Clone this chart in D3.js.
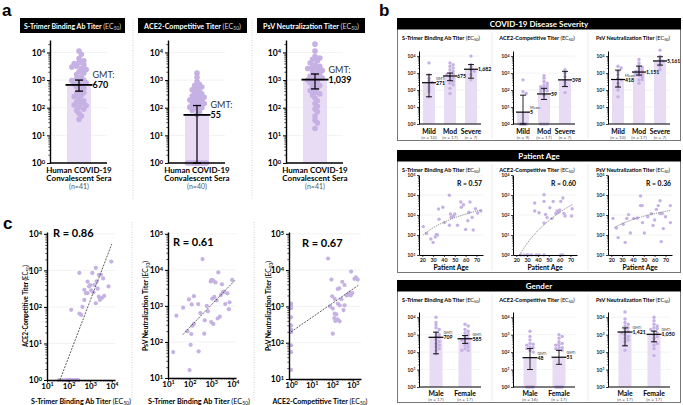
<!DOCTYPE html>
<html><head><meta charset="utf-8">
<script src="https://cdn.jsdelivr.net/npm/d3@7"></script>
<style>html,body{margin:0;padding:0;background:#fff;}svg{display:block;}</style>
</head><body>
<script>
// ================= DATA =================
const assayNames = ["S-Trimer Binding Ab Titer", "ACE2-Competitive Titer", "PsV Neutralization Titer"];

// ---- Panel a: per-sample titers as log10(EC50); 0 = below detection (plotted at 10^0)
const aLogS = [4.05,3.93,3.78,3.7,3.63,3.6,3.55,3.5,3.47,3.42,3.38,3.3,3.26,3.2,3.12,3.05,3.0,2.98,2.95,2.9,2.86,2.82,2.75,2.7,2.62,2.55,2.5,2.45,2.4,2.32,2.25,2.2,2.15,2.1,2.08,2.02,1.95,1.9,1.8,1.7,1.58];
const aLogACE = [0,0,0,0,0,0,0,0,0,0,0,3.25,3.1,2.95,2.85,2.8,2.75,2.7,2.65,2.6,2.55,2.5,2.45,2.42,2.38,2.35,2.3,2.28,2.25,2.2,2.18,2.15,2.1,2.05,2.02,2.0,1.95,1.9,1.85,1.75];
const aLogPsV = [4.3,4.05,3.85,3.8,3.75,3.7,3.62,3.55,3.5,3.45,3.42,3.38,3.35,3.3,3.25,3.2,3.15,3.1,3.08,3.02,3.0,2.95,2.9,2.85,2.8,2.75,2.7,2.62,2.55,2.5,2.45,2.35,2.25,2.15,2.05,1.95,1.85,1.7,1.55,1.45,1.25];
const aGMT = [670, 55, 1039];
const aGMTLabel = ["670", "55", "1,039"];
const aCILow = [398, 1, 479];
const aCIHigh = [1000, 120, 1660];
const aNLabel = ["(n=41)", "(n=40)", "(n=41)"];

// ---- Panel b: disease severity
const sevCats = ["Mild", "Mod", "Severe"];
const sevN = [[10,17,7],[9,17,7],[10,17,7]];
const sevGMT = [[271,675,1682],[5,59,398],[418,1151,5161]];
const sevLabel = [["271","675","1,682"],["5","59","398"],["418","1,151","5,161"]];
const sevStat = [["GMT:","",""],["Mean:","",""],["Mean:","",""]];
const sevCILow = [[40,355,500],[1,28,160],[150,760,2950]];
const sevCIHigh = [[800,1000,3160],[50,126,1260],[1500,2570,9100]];
const sevLogDots = [
  [[3.6,2.9,2.7,2.55,2.45,2.35,2.2,2.05,1.9,1.6],
   [3.6,3.5,3.4,3.3,3.2,3.1,3.0,2.95,2.9,2.8,2.7,2.6,2.5,2.4,2.3,2.1,1.8],
   [4.0,3.5,3.35,3.2,3.1,2.9,2.6]],
  [[2.6,1.9,1.8,0,0,0,0,0,0],
   [2.85,2.7,2.5,2.4,2.3,2.25,2.2,2.15,2.1,2.05,2.0,1.95,1.9,1.7,0,0,0],
   [3.2,3.0,2.8,2.6,2.45,2.3,1.85]],
  [[3.4,3.3,3.1,2.9,2.7,2.6,2.4,2.2,2.0,1.6],
   [3.8,3.6,3.45,3.35,3.3,3.2,3.15,3.1,3.05,3.0,2.95,2.9,2.85,2.75,2.6,2.4,2.6],
   [4.35,4.0,3.8,3.7,3.55,3.4,3.2]]
];

// ---- Panel b: patient age  [age, log10 titer]
const ageS = [[21,2.42],[24,2.08],[28,1.8],[30,1.63],[32,1.9],[33,2.03],[34,2.0],[35,3.3],[35.5,2.79],[39,3.39],[40.5,2.62],[45,3.99],[45,2.49],[46,3.05],[46.5,2.88],[48,2.93],[49,2.95],[50,3.05],[52.5,2.49],[55.5,3.65],[56,3.39],[58,3.51],[60,2.28],[62,2.71],[63,3.14],[64,3.65],[66,2.88],[67,2.25],[69,3.31],[71,3.1],[74,3.2]];
const ageACE = [[24,0],[27,0],[29.8,0],[31,0],[34,0],[38.4,0],[41,0],[45.6,0],[61,0],[63,0],[37,2.6],[37,2.2],[41,2.11],[45.6,3.01],[45.6,2.68],[45.6,1.6],[47,2.03],[48.4,1.87],[51,2.36],[52.8,1.82],[54,2.68],[56.5,2.08],[57.7,2.2],[59,2.15],[60,2.25],[61,2.68],[63,2.85],[64,2.08],[65,1.95],[71,1.95],[71.5,2.31]];
const agePsV = [[21.6,2.83],[24.8,2.35],[26.4,1.87],[31,2.54],[32.8,1.63],[34.4,2.83],[36,3.02],[37.6,2.1],[40.8,2.83],[44,2.85],[47,3.95],[47,3.47],[48.5,3.47],[48.8,2.62],[50.5,2.1],[53.7,2.91],[57,3.07],[58.5,2.48],[60,2.75],[61.6,3.28],[63.3,3.47],[65,3.71],[65,3.07],[66,1.67],[67,3.07],[68,2.32],[70,2.91],[74.5,3.47],[74.5,2.62]];
const ageR = ["R = 0.57", "R = 0.60", "R = 0.36"];
// fitted trend: log10(titer) = A + B*log10(age), drawn over [from, to]
const ageFitA = [-1.01, -7.03, 0.10];
const ageFitB = [2.28, 5.15, 1.67];
const ageFitFrom = [21, 23.2, 23];
const ageFitTo = [75, 72, 75];
const ageTicks = [20, 30, 40, 50, 60, 70];

// ---- Panel b: gender
const genCats = ["Male", "Female"];
const genN = [[17,17],[16,17],[17,17]];
const genGMT = [[709,585],[48,51],[1421,1050]];
const genLabel = [["709","585"],["48","51"],["1,421","1,050"]];
const genCILow = [[80,316],[10,20],[230,390]];
const genCIHigh = [[1400,890],[160,126],[2450,1600]];
const genLogDots = [
  [[4.0,3.7,3.55,3.4,3.3,3.1,3.0,2.9,2.85,2.7,2.6,2.5,2.4,2.3,2.2,2.1,1.9],
   [3.6,3.5,3.3,3.2,3.1,3.0,2.9,2.8,2.75,2.7,2.6,2.5,2.4,2.3,2.2,2.1,2.1]],
  [[3.2,2.9,2.7,2.5,2.45,2.4,2.3,2.25,2.2,2.1,2.0,0,0,0,0,0],
   [3.0,2.9,2.8,2.6,2.5,2.45,2.4,2.3,2.25,2.2,2.15,2.1,0,0,0,0,0]],
  [[4.3,3.9,3.7,3.6,3.5,3.4,3.3,3.2,3.15,3.1,3.0,2.9,2.8,2.7,2.6,2.4,2.1],
   [4.0,3.8,3.6,3.5,3.4,3.35,3.3,3.2,3.1,3.0,2.9,2.8,2.6,2.5,2.4,2.2,1.8]]
];

// ---- Panel c: correlations [log10 x, log10 y]
const cSvsACE = [[1.55,0],[1.72,0],[1.85,0],[1.95,0],[2.0,0],[2.05,0],[2.1,0],[2.18,0],[2.28,0],[2.38,0],[2.45,0],
  [2.12,1.92],[2.5,1.82],[2.58,1.78],[2.64,2.0],[2.73,2.19],[2.8,2.38],[2.88,2.38],[2.95,2.56],[3.98,3.24],[3.26,3.07],[3.1,2.93],[2.5,2.93],[3.4,2.88],[3.5,2.88],[3.85,2.56],[3.4,2.28],[3.45,2.19],[3.26,2.1],[3.65,2.3],[3.19,2.6],[2.73,2.47],[3.0,2.6],[3.05,2.45],[3.15,2.4],[3.3,2.7],[3.55,2.25],[3.6,2.78],[2.88,2.69],[3.35,2.5]];
const cSvsPsV = [[2.6,4.3],[3.33,3.93],[2.98,3.68],[3.02,3.72],[3.1,3.7],[3.2,3.65],[3.97,3.72],[3.5,3.6],[3.6,3.4],[3.75,3.35],[2.2,3.27],[1.97,3.18],[1.7,2.95],[1.39,2.73],[2.1,3.04],[1.24,1.72],[2.05,1.92],[2.42,1.74],[2.0,1.22],[2.08,2.22],[2.13,2.45],[2.68,2.23],[2.7,2.6],[2.85,2.85],[3.05,3.2],[3.15,3.25],[3.25,3.15],[3.3,2.65],[3.4,2.7],[3.0,2.55],[3.55,3.38],[3.65,3.05],[3.82,2.91],[2.4,3.05],[2.5,2.8],[2.8,3.0],[3.1,2.5],[2.2,2.5],[1.9,2.3],[3.45,3.3],[3.85,3.1]];
const cACEvsPsV = [[0,3.08],[0,3.03],[0,2.95],[0,2.7],[0,2.48],[0,2.37],[0,2.29],[0,1.93],[0,1.74],[0,1.25],
  [1.8,4.32],[1.96,3.74],[2.49,3.68],[3.08,3.76],[3.15,3.8],[3.24,3.74],[2.92,3.96],[2.27,3.48],[2.35,3.5],[2.6,3.59],[2.84,3.37],[2.98,3.37],[2.0,3.28],[2.12,3.21],[2.27,3.08],[2.36,3.03],[2.6,3.03],[2.03,2.94],[2.12,2.8],[2.2,2.78],[2.27,2.64],[2.36,2.59],[2.03,2.25],[2.7,3.3],[2.76,3.32],[2.9,3.3],[2.45,3.2],[1.9,3.0],[2.55,2.9],[2.15,2.6],[2.1,2.68]];
const cR = ["R = 0.86", "R = 0.61", "R = 0.67"];
// fitted lines (log10 endpoints)
const cFit = [[[1.6,0],[4.0,3.72]], [[1.68,2.2],[4.1,3.71]], [[0,2.3],[3.27,3.58]]];

// ================= DRAWING =================
const W = 683, H = 405;
const FONT = "Lato, 'Open Sans', 'DejaVu Sans', sans-serif";
const DOT = "#c6b1e4", BARC = "#e8dcf5";
const svg = d3.select("body").append("svg").attr("width", W).attr("height", H).attr("font-family", FONT);
const lg = v => Math.pow(10, v);

function fitW(t, w) {
  const L = t.node().getComputedTextLength();
  if (L > w) t.attr("textLength", w).attr("lengthAdjust", "spacingAndGlyphs");
}
function txt(g, x, y, s, o = {}) {
  const t = g.append("text").attr("x", x).attr("y", y).attr("font-size", o.fs || 8)
    .attr("font-weight", o.fw || "normal").attr("fill", o.fill || "#000")
    .attr("text-anchor", o.anchor || "start").text(s);
  if (o.w) fitW(t, o.w);
  return t;
}
function ecLabel(g, x, y, main, o) {
  const t = g.append("text").attr("x", x).attr("y", y).attr("font-size", o.fs)
    .attr("text-anchor", o.anchor || "middle").attr("fill", o.fill || "#000");
  if (o.rotate) t.attr("transform", `rotate(-90,${x},${y})`);
  const ef = o.ecFill || o.fill || "#000";
  t.append("tspan").attr("font-weight", "bold").text(main + " ");
  t.append("tspan").attr("fill", ef).text("(EC");
  t.append("tspan").attr("fill", ef).attr("font-size", o.fs * 0.68).attr("dy", o.fs * 0.22).text("50");
  t.append("tspan").attr("fill", ef).attr("dy", -o.fs * 0.22).text(")");
  if (o.w) fitW(t, o.w);
  return t;
}
function decadeTicks(s) {
  const [a, b] = s.domain();
  const lo = Math.ceil(Math.log10(Math.min(a, b)) - 1e-9), hi = Math.floor(Math.log10(Math.max(a, b)) + 1e-9);
  return d3.range(lo, hi + 1).map(k => Math.pow(10, k));
}
function minorTicks(s) {
  const [a, b] = s.domain(); const mn = Math.min(a, b), mx = Math.max(a, b); const out = [];
  for (let k = Math.floor(Math.log10(mn)); k <= Math.ceil(Math.log10(mx)); k++)
    for (let m = 2; m < 10; m++) { const v = m * Math.pow(10, k); if (v > mn * 1.0001 && v < mx) out.push(v); }
  return out;
}
function supText(sel) {
  sel.each(function (d) {
    const t = d3.select(this); t.text(null);
    t.append("tspan").text("10");
    t.append("tspan").attr("dy", "-0.42em").attr("font-size", "0.68em").text(Math.round(Math.log10(d)));
  });
}
function styleAxis(ax, o) {
  ax.attr("font-family", FONT);
  ax.select(".domain").attr("stroke", "#000").attr("stroke-width", o.sw);
  ax.selectAll(".tick line").attr("stroke", "#000").attr("stroke-width", o.sw * 0.75);
  ax.selectAll(".tick text").attr("font-size", o.fs).attr("font-weight", "bold").attr("fill", o.color || "#000");
}
function logAxisLeft(g, y, x, o) {
  const ax = g.append("g").attr("transform", `translate(${x},0)`)
    .call(d3.axisLeft(y).tickValues(decadeTicks(y)).tickSize(o.tick).tickSizeOuter(0).tickPadding(o.pad));
  styleAxis(ax, o); supText(ax.selectAll(".tick text"));
  const mn = g.append("g").attr("transform", `translate(${x},0)`)
    .call(d3.axisLeft(y).tickValues(minorTicks(y)).tickSize(o.tick * 0.55).tickSizeOuter(0).tickFormat(""));
  mn.select(".domain").remove();
  mn.selectAll(".tick line").attr("stroke", "#000").attr("stroke-width", o.sw * 0.5);
}
function logAxisBottom(g, xs, y, o) {
  const ax = g.append("g").attr("transform", `translate(0,${y})`)
    .call(d3.axisBottom(xs).tickValues(decadeTicks(xs)).tickSize(o.tick).tickSizeOuter(0).tickPadding(o.pad));
  styleAxis(ax, o); supText(ax.selectAll(".tick text"));
  const mn = g.append("g").attr("transform", `translate(0,${y})`)
    .call(d3.axisBottom(xs).tickValues(minorTicks(xs)).tickSize(o.tick * 0.55).tickSizeOuter(0).tickFormat(""));
  mn.select(".domain").remove();
  mn.selectAll(".tick line").attr("stroke", "#000").attr("stroke-width", o.sw * 0.5);
}
function grid(g, y, x0, x1) {
  g.append("g").selectAll("line").data(decadeTicks(y)).join("line")
    .attr("x1", x0).attr("x2", x1).attr("y1", d => y(d)).attr("y2", d => y(d))
    .attr("stroke", "#ebebeb").attr("stroke-width", 0.6);
}
function hline(g, x0, x1, y, w) {
  g.append("line").attr("x1", x0).attr("x2", x1).attr("y1", y).attr("y2", y).attr("stroke", "#000").attr("stroke-width", w);
}
function swarm(vals, y, cx, md, step, maxOff) {
  const pts = vals.map(v => ({ y: y(lg(v)) })).sort((a, b) => a.y - b.y);
  const placed = [];
  pts.forEach(p => {
    let best = 0, bestD = -1;
    for (let k = 0; k <= maxOff / step + 1e-9; k++) {
      for (const s of (k === 0 ? [0] : [1, -1])) {
        const off = s * k * step;
        let dmin = Infinity;
        placed.forEach(q => { const d = Math.hypot(q.x - (cx + off), q.y - p.y); if (d < dmin) dmin = d; });
        if (dmin >= md) { best = off; bestD = Infinity; break; }
        if (dmin > bestD) { bestD = dmin; best = off; }
      }
      if (bestD === Infinity) break;
    }
    p.x = cx + best; placed.push(p);
  });
  return placed;
}
function drawBars(g, o) {
  const base = o.y(o.y.domain()[0]);
  g.append("g").selectAll("rect").data(o.gmt).join("rect")
    .attr("x", (d, i) => o.cxs[i] - o.bw / 2).attr("width", o.bw)
    .attr("y", d => o.y(d)).attr("height", d => base - o.y(d)).attr("fill", BARC);
  o.dots.forEach((ds, i) => {
    const pts = swarm(ds, o.y, o.cxs[i], o.md, o.step, o.maxOff);
    g.append("g").selectAll("circle").data(pts).join("circle")
      .attr("cx", d => d.x).attr("cy", d => d.y).attr("r", o.r).attr("fill", DOT);
  });
}
function drawStats(g, o) {
  o.gmt.forEach((v, i) => {
    const cx = o.cxs[i], yl = o.y(o.lo[i]), yh = o.y(o.hi[i]), ym = o.y(v);
    g.append("line").attr("x1", cx).attr("x2", cx).attr("y1", yl).attr("y2", yh).attr("stroke", "#111").attr("stroke-width", o.ew);
    hline(g, cx - o.cap / 2, cx + o.cap / 2, yl, o.ew);
    hline(g, cx - o.cap / 2, cx + o.cap / 2, yh, o.ew);
    hline(g, cx - o.mlw / 2, cx + o.mlw / 2, ym, o.mw);
    if (o.stat[i]) txt(g, cx + o.tx, ym + o.sdy, o.stat[i], { fs: o.sfs, fill: "#333" });
    txt(g, cx + o.tx, ym + o.vdy, o.val[i], { fs: o.vfs, fw: "bold" });
  });
}

// ---------- panel labels ----------
txt(svg, 2, 16, "a", { fs: 17, fw: "bold" }).attr("font-family", "Liberation Sans, Arial, sans-serif");
txt(svg, 379, 16, "b", { fs: 17, fw: "bold" }).attr("font-family", "Liberation Sans, Arial, sans-serif");
txt(svg, 3, 229, "c", { fs: 17, fw: "bold" }).attr("font-family", "Liberation Sans, Arial, sans-serif");

// dotted separators (panels a and c)
[133, 252].forEach(x => {
  svg.append("line").attr("x1", x).attr("x2", x).attr("y1", 20).attr("y2", 200).attr("stroke", "#c8c8c8").attr("stroke-dasharray", "1,1.5").attr("stroke-width", 0.8);
});
[132, 254].forEach(x => {
  svg.append("line").attr("x1", x).attr("x2", x).attr("y1", 222).attr("y2", 402).attr("stroke", "#c8c8c8").attr("stroke-dasharray", "1,1.5").attr("stroke-width", 0.8);
});

// ---------- panel a ----------
const aAxX = [50, 168, 286], aW = 57;
const aTitle = [[20, 125], [138, 247], [257, 365]];
const aDots = [aLogS, aLogACE, aLogPsV];
const yA = d3.scaleLog().domain([1, lg(4.45)]).range([163, 40]);
aAxX.forEach((x0, i) => {
  const g = svg.append("g");
  g.append("rect").attr("x", aTitle[i][0]).attr("y", 18).attr("width", aTitle[i][1] - aTitle[i][0]).attr("height", 15).attr("fill", "#000");
  ecLabel(g, (aTitle[i][0] + aTitle[i][1]) / 2, 28.6, assayNames[i], { fs: 7.2, fill: "#fff", ecFill: "#d8d8d8", w: aTitle[i][1] - aTitle[i][0] - 8 });
  grid(g, yA, x0, x0 + aW);
  const cx = x0 + 29;
  drawBars(g, { y: yA, cxs: [cx], gmt: [aGMT[i]], dots: [aDots[i]], bw: 24, r: 2.8, md: 3.6, step: 2.4, maxOff: 9.6 });
  logAxisLeft(g, yA, x0, { tick: 3, pad: 2, sw: 1.4, fs: 8.5 });
  hline(g, x0, x0 + aW, 163, 1.4);
  drawStats(g, { y: yA, cxs: [cx], gmt: [aGMT[i]], lo: [aCILow[i]], hi: [aCIHigh[i]], ew: 1.3, cap: 8, mlw: 27, mw: 1.8,
    stat: ["GMT:"], val: [aGMTLabel[i]], tx: 13.5, sdy: -6.5, vdy: 3.5, sfs: 9, vfs: 9 });
  txt(g, cx, 173, "Human COVID-19", { fs: 8, fw: "bold", anchor: "middle" });
  txt(g, cx, 181, "Convalescent Sera", { fs: 8, fw: "bold", anchor: "middle" });
  txt(g, cx, 189, aNLabel[i], { fs: 7, fill: "#555", anchor: "middle" });
});

// ---------- panel b ----------
const bBoxes = [[18, 141, "COVID-19 Disease Severity"], [150, 273, "Patient Age"], [280, 403, "Gender"]];
const bx0 = 397, bx1 = 681;
const bAxX = [419, 513, 608];
const bTitleCx = [441, 537, 633], bTitleW = [84, 76, 74];
bBoxes.forEach(([y0, y1, title]) => {
  svg.append("rect").attr("x", bx0 + 0.5).attr("y", y0 + 0.5).attr("width", bx1 - bx0 - 1).attr("height", y1 - y0 - 1)
    .attr("fill", "none").attr("stroke", "#777").attr("stroke-width", 1);
  svg.append("rect").attr("x", bx0).attr("y", y0).attr("width", bx1 - bx0).attr("height", 11.5).attr("fill", "#000");
  txt(svg, (bx0 + bx1) / 2, y0 + 8.7, title, { fs: 8, fw: "bold", fill: "#fff", anchor: "middle" });
  [492, 588].forEach(x => svg.append("line").attr("x1", x).attr("x2", x).attr("y1", y0 + 14).attr("y2", y1 - 2).attr("stroke", "#e4e4e4").attr("stroke-width", 0.7));
  bTitleCx.forEach((cx, j) => ecLabel(svg, cx, y0 + 22, assayNames[j], { fs: 5.6, w: bTitleW[j] }));
});
const bAx = { tick: 2, pad: 1.5, sw: 1, fs: 5.3, color: "#222" };

// severity
const ySev = d3.scaleLog().domain([1, lg(4.3)]).range([124, 51]);
bAxX.forEach((ax, j) => {
  const g = svg.append("g");
  const cxs = [ax + 10, ax + 31, ax + 52];
  grid(g, ySev, ax, ax + 62);
  drawBars(g, { y: ySev, cxs, gmt: sevGMT[j], dots: sevLogDots[j], bw: 12, r: 1.7, md: 2.4, step: 1.6, maxOff: 4 });
  logAxisLeft(g, ySev, ax, bAx);
  hline(g, ax, ax + 62, 124, 1);
  drawStats(g, { y: ySev, cxs, gmt: sevGMT[j], lo: sevCILow[j], hi: sevCIHigh[j], ew: 0.9, cap: 6, mlw: 14, mw: 1.2,
    stat: sevStat[j], val: sevLabel[j], tx: 7, sdy: -3, vdy: 2, sfs: 3.8, vfs: 5.2 });
  sevCats.forEach((c, k) => {
    txt(g, cxs[k], 133.5, c, { fs: 6.8, fw: "bold", anchor: "middle" });
    txt(g, cxs[k], 139.3, `(n = ${sevN[j][k]})`, { fs: 4.6, fill: "#555", anchor: "middle" });
  });
});

// age
const ageData = [ageS, ageACE, agePsV];
const ageYDom = [[10, 1e5], [1, 1e4], [10, 1e5]];
bAxX.forEach((ax, j) => {
  const g = svg.append("g");
  const x = d3.scaleLinear().domain([17, 76]).range([ax, ax + 64]);
  const y = d3.scaleLog().domain(ageYDom[j]).range([255, 175]);
  grid(g, y, ax, ax + 64);
  g.append("g").selectAll("circle").data(ageData[j]).join("circle")
    .attr("cx", d => x(d[0])).attr("cy", d => y(Math.max(lg(d[1]), ageYDom[j][0]))).attr("r", 1.7).attr("fill", DOT);
  const ages = d3.range(ageFitFrom[j], ageFitTo[j] + 0.01, 0.5);
  g.append("path").datum(ages).attr("fill", "none").attr("stroke", "#555").attr("stroke-width", 0.7).attr("stroke-dasharray", "1.2,1")
    .attr("d", d3.line().x(a => x(a)).y(a => y(lg(ageFitA[j] + ageFitB[j] * Math.log10(a)))));
  logAxisLeft(g, y, ax, bAx);
  const xa = g.append("g").attr("transform", "translate(0,255)")
    .call(d3.axisBottom(x).tickValues(ageTicks).tickSize(2).tickSizeOuter(0).tickPadding(1));
  styleAxis(xa, bAx);
  txt(g, ax + 32, 269.5, "Patient Age", { fs: 6.8, fw: "bold", anchor: "middle" });
  txt(g, ax + 38, 185.5, ageR[j], { fs: 6.8, fw: "bold" });
});

// gender
const yGen = d3.scaleLog().domain([1, lg(4.3)]).range([387, 312]);
bAxX.forEach((ax, j) => {
  const g = svg.append("g");
  const cxs = [ax + 17, ax + 46];
  grid(g, yGen, ax, ax + 62);
  drawBars(g, { y: yGen, cxs, gmt: genGMT[j], dots: genLogDots[j], bw: 13, r: 1.7, md: 2.4, step: 1.6, maxOff: 4 });
  logAxisLeft(g, yGen, ax, bAx);
  hline(g, ax, ax + 62, 387, 1);
  drawStats(g, { y: yGen, cxs, gmt: genGMT[j], lo: genCILow[j], hi: genCIHigh[j], ew: 0.9, cap: 6, mlw: 15, mw: 1.2,
    stat: ["GMT:", "GMT:"], val: genLabel[j], tx: 7.5, sdy: -3, vdy: 2, sfs: 3.8, vfs: 5.2 });
  genCats.forEach((c, k) => {
    txt(g, cxs[k], 395.5, c, { fs: 6.8, fw: "bold", anchor: "middle" });
    txt(g, cxs[k], 401.2, `(n = ${genN[j][k]})`, { fs: 4.6, fill: "#555", anchor: "middle" });
  });
});

// ---------- panel c ----------
const cCfg = [
  { ax: 47, xd: [10, lg(4.15)], xr: [47, 115], yd: [1, lg(4.05)], yr: [380, 232], pts: cSvsACE, rx: 53, ry: 237,
    xl: assayNames[0], xlx: 81, xlw: 100, yl: assayNames[1], ylx: 28, ylw: 82 },
  { ax: 168, xd: [10, lg(4.15)], xr: [168, 236], yd: [10, lg(5.05)], yr: [378, 232], pts: cSvsPsV, rx: 173, ry: 246,
    xl: assayNames[0], xlx: 199, xlw: 102, yl: assayNames[2], ylx: 148, ylw: 90 },
  { ax: 289, xd: [lg(-0.1), lg(3.4)], xr: [289, 361], yd: [10, lg(5.05)], yr: [379, 232], pts: cACEvsPsV, rx: 302, ry: 247,
    xl: assayNames[1], xlx: 320, xlw: 95, yl: assayNames[2], ylx: 271, ylw: 90 }
];
cCfg.forEach((c, i) => {
  const g = svg.append("g");
  const x = d3.scaleLog().domain(c.xd).range(c.xr);
  const y = d3.scaleLog().domain(c.yd).range(c.yr);
  grid(g, y, c.xr[0], c.xr[1]);
  g.append("g").selectAll("circle").data(c.pts).join("circle")
    .attr("cx", d => x(lg(d[0]))).attr("cy", d => y(Math.max(lg(d[1]), c.yd[0]))).attr("r", 2.1).attr("fill", DOT);
  g.append("line").attr("x1", x(lg(cFit[i][0][0]))).attr("y1", y(Math.max(lg(cFit[i][0][1]), c.yd[0])))
    .attr("x2", x(lg(cFit[i][1][0]))).attr("y2", y(lg(cFit[i][1][1])))
    .attr("stroke", "#333").attr("stroke-width", 0.8).attr("stroke-dasharray", "2,1.2");
  logAxisLeft(g, y, c.ax, { tick: 3, pad: 2, sw: 1.4, fs: 8.5 });
  logAxisBottom(g, x, c.yr[0], { tick: 2.5, pad: 0.5, sw: 1.4, fs: 8 });
  txt(g, c.rx, c.ry, cR[i], { fs: 11, fw: "bold" });
  ecLabel(g, c.xlx, 403.5, c.xl, { fs: 7.4, w: c.xlw });
  ecLabel(g, c.ylx, 306, c.yl, { fs: 7.5, w: c.ylw, rotate: true });
});
</script>
</body></html>
